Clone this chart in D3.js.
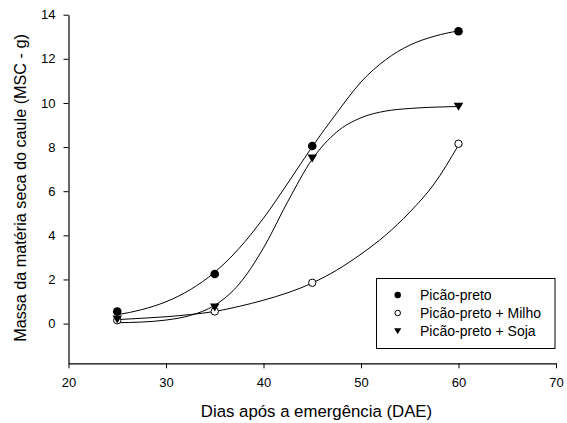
<!DOCTYPE html>
<html>
<head>
<meta charset="utf-8">
<script src="https://cdn.jsdelivr.net/npm/d3@7"></script>
<style>
  html, body { margin: 0; padding: 0; background: #fff; }
  svg { display: block; font-family: "Liberation Sans", Arial, Helvetica, sans-serif; }
</style>
</head>
<body>
<svg id="chart" width="567" height="423"></svg>
<script>
// ---- data ----
const days = [25, 35, 45, 60];
const picao = [0.55, 2.25, 8.05, 13.25];
const milho = [0.15, 0.55, 1.85, 8.15];
const soja = [0.2, 0.75, 7.5, 9.85];

// fitted curves
const fitX = [25, 27.5, 30, 32.5, 35, 37.5, 40, 42.5, 45, 47.5, 50, 52.5, 55, 57.5, 60];
const fitPicao = [0.40, 0.63, 0.99, 1.54, 2.33, 3.41, 4.78, 6.37, 8.02, 9.54, 10.95, 11.95, 12.62, 13.02, 13.27];
const fitMilho = [0.18, 0.24, 0.31, 0.41, 0.55, 0.78, 1.06, 1.40, 1.84, 2.42, 3.15, 4.00, 5.05, 6.33, 8.09];
const fitSoja = [0.04, 0.07, 0.16, 0.37, 0.83, 1.79, 3.43, 5.54, 7.45, 8.68, 9.33, 9.63, 9.75, 9.81, 9.84];

const xTicks = [20, 30, 40, 50, 60, 70];
const yTicks = [0, 2, 4, 6, 8, 10, 12, 14];
const seriesNames = ["Picão-preto", "Picão-preto + Milho", "Picão-preto + Soja"];
const xTitle = "Dias após a emergência (DAE)";
const yTitle = "Massa da matéria seca do caule (MSC - g)";

// ---- layout ----
const svg = d3.select("#chart");
const x = d3.scaleLinear().domain([20, 70]).range([68.5, 556]);
const y = d3.scaleLinear().domain([-1.8, 14]).range([363.3, 14.7]);

// axes
const xAxis = d3.axisBottom(x).tickValues(xTicks).tickSize(5).tickPadding(9.5).tickSizeOuter(0);
const yAxis = d3.axisLeft(y).tickValues(yTicks).tickSize(5).tickPadding(8).tickSizeOuter(0);

const gx = svg.append("g").attr("transform", `translate(0,${y(-1.8)})`).call(xAxis);
const gy = svg.append("g").attr("transform", `translate(${x(20)},0)`).call(yAxis);
[gx, gy].forEach(g => {
  g.selectAll("path.domain").attr("stroke", "#000").attr("stroke-width", 1.2);
  g.selectAll(".tick line").attr("stroke", "#000").attr("stroke-width", 1);
  g.selectAll(".tick text").attr("fill", "#000").attr("font-size", 13)
    .attr("font-family", '"Liberation Sans", Arial, sans-serif');
});

// titles
svg.append("text").attr("x", 316.5).attr("y", 416.5)
  .attr("text-anchor", "middle").attr("font-size", 16.8).text(xTitle);
svg.append("text").attr("transform", `translate(26,188) rotate(-90)`)
  .attr("text-anchor", "middle").attr("font-size", 16.2).text(yTitle);

// curves
const line = d3.line().x(d => x(d[0])).y(d => y(d[1])).curve(d3.curveMonotoneX);
[fitPicao, fitMilho, fitSoja].forEach(vals => {
  svg.append("path").datum(fitX.map((v, i) => [v, vals[i]]))
    .attr("d", line).attr("fill", "none").attr("stroke", "#000").attr("stroke-width", 1);
});

// markers
function drawMarker(g, kind, cx, cy, s) {
  if (kind === 0) {
    g.append("circle").attr("cx", cx).attr("cy", cy).attr("r", 4.3 * s).attr("fill", "#000");
  } else if (kind === 1) {
    g.append("circle").attr("cx", cx).attr("cy", cy).attr("r", 3.7 * s)
      .attr("fill", "#fff").attr("stroke", "#000").attr("stroke-width", 1);
  } else {
    const w = 4.8 * s, top = 3.6 * s, bot = 4.4 * s;
    g.append("path").attr("d", `M${-w},${-top}L${w},${-top}L0,${bot}Z`)
      .attr("transform", `translate(${cx},${cy})`).attr("fill", "#000");
  }
}
const gm = svg.append("g");
days.forEach((d, i) => drawMarker(gm, 0, x(d), y(picao[i]), 1));
days.forEach((d, i) => drawMarker(gm, 1, x(d), y(milho[i]), 1));
days.forEach((d, i) => drawMarker(gm, 2, x(d), y(soja[i]), 1));

// legend
const lg = svg.append("g");
lg.append("rect").attr("x", 376.5).attr("y", 278.5).attr("width", 178.5).attr("height", 70)
  .attr("fill", "#fff").attr("stroke", "#000").attr("stroke-width", 1);
const rowsY = [295, 313, 331];
seriesNames.forEach((name, i) => {
  drawMarker(lg, i, 397.7, rowsY[i], i === 1 ? 0.75 : 0.75);
  lg.append("text").attr("x", 420).attr("y", rowsY[i] + 5).attr("font-size", 14).text(name);
});
</script>
</body>
</html>
